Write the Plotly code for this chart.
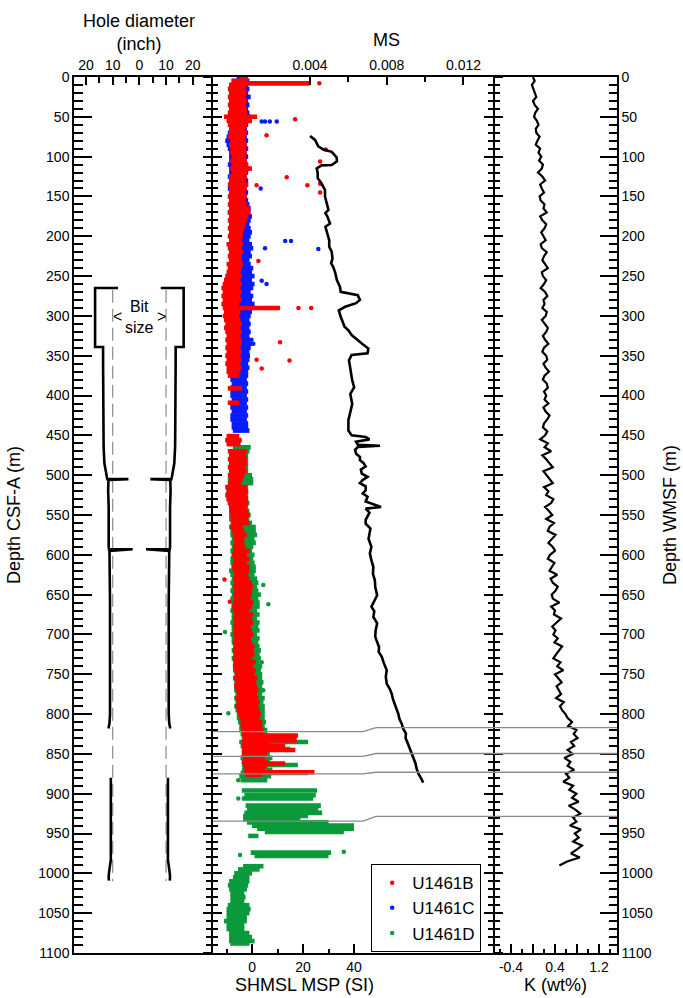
import plotly.graph_objects as go

# ---------------- data ----------------
# Caliper half-diameter (inch), plotted mirrored about the hole axis
cal_upper_depth = [265, 265, 339, 339, 360, 400, 443, 464, 485, 495, 502, 505, 505, 506, 520, 540, 560, 575, 590, 593, 593, 595, 610, 630, 660, 700, 740, 780, 800, 812, 818]
cal_upper_val = [8.0, 16.6, 16.6, 13.6, 13.6, 13.6, 13.5, 13.4, 13.1, 12.7, 12.2, 12.0, 4.1, 11.6, 11.7, 11.5, 11.6, 11.5, 11.5, 11.4, 2.5, 11.2, 11.1, 11.0, 11.0, 11.0, 10.9, 11.0, 11.0, 11.2, 11.6]
cal_lower_depth = [880, 900, 930, 960, 983, 990, 995, 1000, 1005, 1009]
cal_lower_val = [10.7, 10.7, 10.7, 10.7, 10.7, 11.0, 11.3, 11.4, 11.5, 11.4]
bit_size = 10.0
bit_depth = [267, 1010]

# SHMSL point-magnetic susceptibility, U1461B (depth m, low, high of the point cloud)
b_depth = [0, 5, 8, 10, 15, 20, 25, 30, 35, 40, 45, 50, 55, 60, 65, 70, 75, 80, 85, 90, 95, 100, 105, 110, 115, 120, 125, 130, 135, 140, 145, 150, 155, 160, 165, 170, 175, 180, 185, 190, 195, 200, 205, 210, 215, 220, 225, 230, 235, 240, 245, 250, 255, 260, 265, 270, 275, 280, 285, 290, 295, 300, 305, 310, 315, 320, 325, 330, 335, 340, 345, 350, 355, 360, 365, 370, 375, 391, 409, 451, 456, 461, 470, 475, 480, 485, 490, 495, 500, 505, 510, 515, 520, 525, 530, 535, 540, 545, 550, 555, 560, 565, 570, 575, 580, 585, 590, 595, 600, 605, 610, 615, 620, 625, 630, 635, 640, 645, 650, 655, 660, 665, 670, 675, 680, 685, 690, 695, 700, 705, 710, 715, 720, 725, 730, 735, 740, 745, 750, 755, 760, 765, 770, 775, 780, 785, 790, 795, 800, 805, 810, 815, 820, 825, 827, 830, 833, 835, 840, 845, 850, 855, 860, 862, 865, 870, 873, 876]
b_lo = [-5, -8, -5.5, -9, -9.5, -9, -9.5, -9, -9.5, -9, -9.5, -11, -10, -9.5, -9, -9, -9.5, -8.5, -9, -8.5, -8.5, -8, -8.5, -8, -8.5, -8, -9, -9, -9.5, -9, -9, -9.5, -9, -9.5, -9, -9.5, -9, -9.5, -9, -9.5, -9, -9.5, -9, -10, -9.5, -9, -9.5, -9, -10, -9.5, -10, -10.5, -11, -11.5, -12, -11.5, -12, -11.5, -12, -11.5, -11, -11.5, -11, -10.5, -11, -10.5, -10, -10.5, -10, -10.5, -10, -10.5, -10, -10.5, -10, -10, -9.5, -9.5, -9.5, -10, -10.5, -10, -9.5, -9, -9.5, -9, -9.5, -9, -9.5, -9, -9.5, -10.5, -10, -10.5, -10, -9.5, -9, -9, -8.5, -8.5, -8, -8.5, -8, -7.5, -7.5, -7, -7.5, -7.5, -8, -7.5, -7.5, -8, -7.5, -7, -7.5, -7, -7.5, -7, -7.5, -7, -7.5, -8, -7.5, -7, -7.5, -7, -7.5, -7, -7.5, -7, -7.5, -7, -7.5, -7, -7.5, -7, -7.5, -7, -6.5, -7, -6.5, -7, -6.5, -6, -6.5, -6, -6.5, -6, -5.5, -5, -4.5, -4.5, -4, -4, -4, -3.5, -3.5, -4, -4, -4, -4, -3.5, -4, -3, -3.5, -3, -3, -2.5]
b_hi = [-1.5, -1.5, 22.5, -2, -2.5, -2, -2.5, -2, -2.5, -2, -2, 2, 0, -2, -2.5, -2, -2.5, -2.5, -2, -2.5, -2, -2.5, -2, -1.5, 0, -2, -2, -2.5, -1.5, -2, -2.5, -2, -2.5, -2, -1, -0.5, -1.5, -2, -2.5, -3, -3.5, -3.5, -4, -3.5, -4, -3.5, -4, -4, -3.5, -4, -4.5, -4, -4.5, -4, -4.5, -4, -4.5, -4, -5, 11, -4.5, -5, -4.5, -4, -4.5, -4, -4.5, -4, -4, -4.5, -4, -4.5, -4, -4.5, -4, -4.5, -5, -4, -5, -5, -4, -4.5, -2, -2.5, -2, -2, -2.5, -2, -3, -3.5, -4, -2, -1.5, -2, -1.5, -1.5, -2, -1.5, -1, -1.5, -1, -3.5, -3, -2, -3, -3, -2.5, -1, -2, -1, -2, -1, -1, -1.5, -1, 0, 0.5, 0, 0, -0.5, 0.5, 0, -1, 0.5, 0, 0.5, -0.5, 0, 0.5, -0.5, 0, 1, 0.5, 1, 0, 1.5, 0.5, 1.5, 1, 2, 1.5, 2, 2.5, 2, 2.5, 3, 2.5, 3, 3.5, 3, 4, 4, 4.5, 5, 18, 6, 17.5, 7, 13, 17, 6, 5, 6, 13, 6, 5, 24.5, 4]
b_pts_depth = [8, 53, 73, 91, 106, 126, 134, 136, 136, 145, 231, 290, 290, 290, 290, 290, 290, 290, 333, 355, 356, 366, 631, 659]
b_pts_val = [26.4, 16.9, 5.7, 28.9, 26.7, 13.6, 26.7, 21.7, 1.8, 26.7, 2.5, -0.1, 1.2, 5.7, 7.0, 9.7, 18.2, 23.2, 11.0, 1.8, 14.7, 3.8, -10.8, -8.7]

# U1461C
c_depth = [0, 5, 10, 15, 20, 25, 30, 35, 40, 45, 50, 55, 60, 65, 70, 75, 80, 85, 90, 95, 100, 105, 110, 115, 120, 125, 130, 135, 140, 145, 150, 155, 160, 165, 170, 175, 180, 185, 190, 195, 200, 205, 210, 215, 220, 225, 230, 235, 240, 245, 250, 255, 260, 265, 270, 275, 280, 285, 290, 295, 300, 305, 310, 315, 320, 325, 330, 335, 340, 345, 350, 355, 360, 365, 370, 375, 380, 385, 390, 395, 400, 405, 410, 415, 420, 425, 430, 435, 440, 444]
c_lo = [-6, -8, -8.5, -9, -8.5, -9, -9, -8.5, -9, -8.5, -9, -9.5, -9, -9, -9.5, -10, -10.5, -10, -9.5, -9, -9, -9, -9.5, -9, -9, -9.5, -9, -9, -9.5, -9, -9, -9, -9, -9, -9.5, -9, -9, -9, -9, -9, -9, -9, -9, -9, -9, -9, -9, -9, -9, -9, -9, -9, -9, -9, -9, -9, -9, -9, -9, -9, -9, -9, -9, -9, -9, -8.5, -8.5, -8.5, -8.5, -8.5, -8.5, -8.5, -8.5, -8.5, -8.5, -8.5, -8.5, -8, -8.5, -8.5, -8.5, -8, -8.5, -8.5, -8, -8.5, -8.5, -8, -8, -7.5]
c_hi = [-2, -1, -1.5, -1, -1.5, -0.5, -1.5, -1, -1.5, -1, -0.5, 0, -1.5, -2, -1.5, -2, -1.5, -2, -1.5, -2, -1.5, -2, -1.5, -1, -1.5, -2, -1.5, -1.5, -2, -1.5, -2, -1.5, -1, -0.5, -1, 0, -0.5, -1, -0.5, 0, -0.5, -1, 0, 0.5, -0.5, 0, -1, -0.5, 0.5, 0, 1, 0, 1, 0.5, -0.5, 0.5, 0, 1, 0.5, 0, -0.5, -1, -0.5, -1, -0.5, -1, -0.8, 0, -0.5, -1, -0.8, -1, -1.5, -1, -1.5, -1.5, -2, -1.5, -2, -1.5, -2, -1.5, -2, -1.5, -2, -1.5, -2, -1.5, -1.5, -1]
c_pts_depth = [56, 56, 56, 56, 140, 206, 206, 215, 216, 256, 260, 330, 335]
c_pts_val = [3.8, 5.1, 7.0, 9.7, 3.4, 13.0, 15.3, 5.1, 26.0, 3.8, 5.7, -0.2, 0.5]

# U1461D
d_depth = [465, 470, 475, 480, 485, 490, 495, 500, 505, 510, 515, 520, 525, 530, 535, 540, 545, 550, 555, 560, 565, 570, 575, 580, 585, 590, 595, 600, 605, 610, 615, 620, 625, 630, 635, 640, 645, 650, 655, 660, 665, 670, 675, 680, 685, 690, 695, 700, 705, 710, 715, 720, 725, 730, 735, 740, 745, 750, 755, 760, 765, 770, 775, 780, 785, 790, 795, 800, 805, 810, 815, 820, 825, 830, 835, 840, 844, 850, 855, 860, 864, 870, 874, 878, 883, 896, 902, 906, 915, 919, 924, 928, 932, 936, 940, 944, 948, 953, 974, 978, 991, 995, 1000, 1005, 1010, 1015, 1020, 1025, 1030, 1035, 1040, 1045, 1050, 1055, 1060, 1065, 1070, 1075, 1080, 1085, 1088]
d_lo = [-7.5, -8, -9, -9, -9, -9, -9, -9, -9.5, -9, -10, -10, -10, -10, -9.5, -9, -9, -9, -9, -8.5, -9, -8.5, -8.5, -8, -8.5, -8, -8.5, -8, -8.5, -8.5, -8, -9, -8.5, -8, -8.5, -8, -8.5, -8, -8.5, -8, -8, -8.5, -8, -8, -8.5, -8, -8, -8.5, -8, -8, -7.5, -8, -7.5, -8, -7.5, -7, -7.5, -7, -7.5, -7, -7, -7, -6.5, -7, -6.5, -7, -6.5, -6, -6, -5.5, -5, -5, -4.5, -4, -5, -4.5, -4, -4, -4.5, -4, -4, -4, -4.5, -5, -4.5, -4, -3, -4, -2.5, -2, -3, -3.5, -3.5, -2, 0, 2, 5, -1.5, -0.5, 1, -3.5, -5.5, -7, -7.5, -9, -9.5, -9, -8.5, -8.5, -8.5, -9.5, -10, -10, -10, -11, -10, -10, -9, -9, -9, -8.5]
d_hi = [-0.5, -1, -1.5, -1.5, -1.5, -1.5, -1.5, 0, 0.5, 0.5, -1.5, -1.5, -1.5, -1.5, -1, -1.5, -1, -0.5, -1, 0, 1.5, 1.5, 2, 1, 1.5, 0.5, 0, 1, 0.5, 1, 1.5, 1.5, 1, 2, 2.5, 2, 2.5, 3.5, 2.5, 3, 3, 2, 3, 2, 3, 2.5, 3, 2, 3, 2.5, 3, 3.5, 3, 3.5, 3, 4, 3.5, 4, 4, 4.5, 4, 4.5, 4, 5, 4.5, 5, 5, 5, 5, 5.5, 5, 6, 6, 7, 22, 8, 15, 7, 8, 7, 18, 8, 22, 7.5, 6, 25.5, 25, 24, 27, 26, 27.5, 22, 19, 30, 40, 40, 36, 2.5, 31, 30, 4.5, 3, 0, -1, -1, -1.5, -2, -3, -2.5, -3, -1, -0.5, -1, -2, -2, -3, -3, -1, 0, 1, -1]
d_pts_depth = [638, 662, 697, 735, 770, 799, 883, 906, 944, 973, 977]
d_pts_val = [4.4, 6.4, -10.6, 3.8, 4.4, -9.3, -5.4, -5.4, 37.8, 36.0, -4.7]

# Downhole magnetic susceptibility (MS)
ms_depth = [74, 79, 87, 91, 94, 101, 106, 110.6, 111, 114.7, 121, 127, 133.6, 142, 150, 159, 167, 171, 175, 184, 188, 196.5, 205, 213, 219.5, 228, 234, 238, 244.6, 255, 263.4, 269.7, 272, 274, 280, 284, 288.5, 293, 301, 307, 313.6, 318, 324, 334.6, 341, 347, 349, 355.5, 368, 381, 389.6, 398, 410.6, 423, 431, 444, 450, 452, 455, 458, 462, 463, 464.5, 468, 473, 477, 481, 485, 489, 493, 498, 502, 506, 510, 514, 519, 523, 527, 533, 540, 542, 547, 552, 556, 561, 567, 573.5, 580, 590, 598, 607, 615, 624, 632, 640.5, 651, 658, 665, 671, 678, 686, 695, 703, 710, 716, 722, 728, 736, 745, 753, 762, 768, 774.5, 781, 787, 793, 799.5, 806, 812, 818, 824.5, 830, 837, 843, 850, 856, 862, 868, 875, 881, 886]
ms_val = [0.00400, 0.00426, 0.00443, 0.00469, 0.00513, 0.00539, 0.00540, 0.00513, 0.00460, 0.00435, 0.00440, 0.00440, 0.00460, 0.00478, 0.00478, 0.00487, 0.00496, 0.00480, 0.00490, 0.00504, 0.00480, 0.00490, 0.00500, 0.00500, 0.00513, 0.00517, 0.00510, 0.00520, 0.00530, 0.00540, 0.00556, 0.00560, 0.00617, 0.00649, 0.00660, 0.00640, 0.00583, 0.00550, 0.00560, 0.00570, 0.00580, 0.00600, 0.00617, 0.00670, 0.00704, 0.00700, 0.00617, 0.00603, 0.00610, 0.00620, 0.00630, 0.00610, 0.00620, 0.00610, 0.00600, 0.00600, 0.00617, 0.00690, 0.00710, 0.00640, 0.00650, 0.00765, 0.00650, 0.00635, 0.00640, 0.00660, 0.00660, 0.00680, 0.00690, 0.00665, 0.00670, 0.00700, 0.00675, 0.00660, 0.00690, 0.00690, 0.00675, 0.00700, 0.00690, 0.00770, 0.00690, 0.00710, 0.00700, 0.00690, 0.00690, 0.00715, 0.00710, 0.00705, 0.00720, 0.00712, 0.00720, 0.00730, 0.00728, 0.00738, 0.00740, 0.00750, 0.00735, 0.00720, 0.00735, 0.00730, 0.00750, 0.00742, 0.00740, 0.00752, 0.00760, 0.00758, 0.00774, 0.00785, 0.00800, 0.00795, 0.00800, 0.00815, 0.00826, 0.00832, 0.00843, 0.00850, 0.00860, 0.00866, 0.00878, 0.00885, 0.00900, 0.00898, 0.00910, 0.00920, 0.00930, 0.00938, 0.00950, 0.00955, 0.00965, 0.00980, 0.00990]

# Potassium from the natural gamma log, 5 m samples from 0 m
k_start, k_step = 0, 5
k_val = [0.00, 0.03, -0.02, 0.01, 0.04, 0.06, 0.00, 0.03, 0.09, 0.04, 0.02,
         0.07, 0.10, 0.05, 0.06, 0.12, 0.08, 0.05, 0.13, 0.10, 0.15,
         0.11, 0.18, 0.16, 0.09, 0.17, 0.22, 0.13, 0.16, 0.20, 0.12,
         0.14, 0.21, 0.19, 0.25, 0.13, 0.17, 0.24, 0.21, 0.15, 0.19,
         0.23, 0.14, 0.16, 0.25, 0.20, 0.17, 0.22, 0.27, 0.16, 0.18,
         0.24, 0.20, 0.14, 0.22, 0.26, 0.19, 0.21, 0.17, 0.25, 0.23,
         0.16, 0.21, 0.27, 0.24, 0.18, 0.22, 0.28, 0.20, 0.17, 0.24,
         0.26, 0.19, 0.23, 0.29, 0.21, 0.18, 0.25, 0.27, 0.20, 0.24,
         0.21, 0.28, 0.19, 0.23, 0.30, 0.26, 0.20, 0.18, 0.26, 0.22,
         0.13, 0.27, 0.21, 0.33, 0.17, 0.24, 0.30, 0.36, 0.19, 0.25,
         0.31, 0.36, 0.20, 0.28, 0.24, 0.37, 0.33, 0.22, 0.29, 0.35,
         0.24, 0.38, 0.30, 0.27, 0.41, 0.34, 0.28, 0.36, 0.40, 0.31,
         0.27, 0.39, 0.35, 0.30, 0.44, 0.32, 0.36, 0.45, 0.41, 0.34,
         0.36, 0.48, 0.33, 0.40, 0.38, 0.51, 0.43, 0.35, 0.41, 0.37,
         0.45, 0.39, 0.53, 0.47, 0.42, 0.37, 0.50, 0.44, 0.55, 0.40,
         0.46, 0.52, 0.43, 0.47, 0.51, 0.42, 0.56, 0.49, 0.53, 0.59,
         0.63, 0.71, 0.64, 0.79, 0.74, 0.81, 0.69, 0.75, 0.63, 0.72,
         0.57, 0.68, 0.63, 0.75, 0.60, 0.66, 0.55, 0.73, 0.66, 0.79,
         0.71, 0.83, 0.65, 0.77, 0.86, 0.73, 0.79, 0.67, 0.87, 0.76,
         0.83, 0.73, 0.89, 0.80, 0.69, 0.85, 0.62, 0.48]
k_depth = list(range(k_start, k_start + k_step * len(k_val), k_step))

# Depth ties between CSF-A (core) and WMSF (logging) scales
tie_csf = [822, 853, 875, 934.5]
tie_wmsf = [817, 849.5, 873, 928.5]

# ---------------- styling ----------------
FONT = "Liberation Sans, Arial, Helvetica, sans-serif"
RED, BLUE, GREEN = "#ff0000", "#0a1aff", "#0a9a3c"
W, H = 683, 998
ML, MR, MT, MB = 74, 66, 77, 45
PW, PH = W - ML - MR, H - MT - MB
D1 = (213 - ML) / PW
D2 = (493 - ML) / PW


def px(x):
    return (x - ML) / PW


def py(y):
    return 1 - (y - MT) / PH


def band(depths, lo, hi):
    xs, ys = [], []
    for d, a, b in zip(depths, lo, hi):
        xs += [a, b, None]
        ys += [d, d, None]
    return xs, ys


fig = go.Figure()

# --- caliper panel ---
for sgn in (-1, 1):
    fig.add_trace(go.Scatter(x=[sgn * bit_size] * 2, y=bit_depth, mode="lines",
                             line=dict(color="#8c8c8c", width=1.2, dash="13px,6px"),
                             xaxis="x", yaxis="y", showlegend=False, hoverinfo="skip"))
    for dep, val in ((cal_upper_depth, cal_upper_val), (cal_lower_depth, cal_lower_val)):
        fig.add_trace(go.Scatter(x=[sgn * v for v in val], y=dep, mode="lines",
                                 line=dict(color="black", width=2.6),
                                 xaxis="x", yaxis="y", showlegend=False, hoverinfo="skip"))

# --- MSP point clouds (drawn D, C, B so B sits on top) ---
holes = [
    ("U1461D", GREEN, d_depth, d_lo, d_hi, d_pts_depth, d_pts_val, 3),
    ("U1461C", BLUE, c_depth, c_lo, c_hi, c_pts_depth, c_pts_val, 2),
    ("U1461B", RED, b_depth, b_lo, b_hi, b_pts_depth, b_pts_val, 1),
]
for name, col, dep, lo, hi, pd_, pv, rank in holes:
    bx, by = band(dep, lo, hi)
    fig.add_trace(go.Scatter(x=bx, y=by, mode="lines", line=dict(color=col, width=4.6),
                             xaxis="x2", yaxis="y2", legendgroup=name, showlegend=False,
                             hoverinfo="skip"))
    fig.add_trace(go.Scatter(x=pv, y=pd_, mode="markers", name=name,
                             marker=dict(color=col, size=4.5), legendgroup=name,
                             legendrank=rank, xaxis="x2", yaxis="y2"))

# --- downhole MS ---
fig.add_trace(go.Scatter(x=ms_val, y=ms_depth, mode="lines", line=dict(color="black", width=2.6),
                         xaxis="x3", yaxis="y2", showlegend=False))

# --- K log ---
fig.add_trace(go.Scatter(x=k_val, y=k_depth, mode="lines", line=dict(color="black", width=2.2),
                         xaxis="x4", yaxis="y3", showlegend=False))

# --- depth tie lines ---
bend0, bend1 = px(363), px(376)
shapes = []
for a, b in zip(tie_csf, tie_wmsf):
    for x0, x1, y0, y1 in ((D1, bend0, a, a), (bend0, bend1, a, b), (bend1, 1.0, b, b)):
        shapes.append(dict(type="line", xref="paper", yref="y2", x0=x0, x1=x1, y0=y0, y1=y1,
                           line=dict(color="#8a8a8a", width=1.3), layer="above"))

depth_range = [1100, 0]
tickfont = dict(family=FONT, size=14, color="black")
common = dict(showgrid=False, zeroline=False, showline=True, linecolor="black", linewidth=1.5,
              tickcolor="black", tickwidth=1.5, tickfont=tickfont)

fig.update_layout(
    width=W, height=H, margin=dict(l=ML, r=MR, t=MT, b=MB),
    paper_bgcolor="white", plot_bgcolor="white",
    font=dict(family=FONT, color="black"),
    shapes=shapes,
    showlegend=True,
    legend=dict(x=px(371), y=py(864), xanchor="left", yanchor="top", bgcolor="white",
                bordercolor="black", borderwidth=1.2, font=dict(family=FONT, size=17),
                itemwidth=30, tracegroupgap=0),
    xaxis=dict(domain=[0, D1], range=[-24.5, 27.6], side="top", anchor="y",
               tickmode="array", tickvals=[-20, -10, 0, 10, 20],
               ticktext=["20", "10", "0", "10", "20"], ticks="inside", ticklen=8,
               minor=dict(tickvals=[-15, -5, 5, 15], ticks="inside", ticklen=6,
                          tickcolor="black", tickwidth=1.5),
               mirror=True, **common),
    yaxis=dict(domain=[0, 1], range=depth_range, anchor="x", side="left",
               tickmode="linear", tick0=0, dtick=50, ticks="inside", ticklen=18,
               minor=dict(dtick=10, tick0=0, ticks="inside", ticklen=9,
                          tickcolor="black", tickwidth=1.5),
               **common),
    xaxis2=dict(domain=[D1, D2], range=[-15.3, 94.5], side="bottom", anchor="y2",
                tickmode="array", tickvals=[0, 20, 40], ticks="inside", ticklen=9,
                minor=dict(tickvals=[-10, 10, 30], ticks="inside", ticklen=4,
                           tickcolor="black", tickwidth=1.5),
                **common),
    xaxis3=dict(range=[-0.00106, 0.01354], overlaying="x2", side="top", anchor="y2",
                tickmode="array", tickvals=[0.004, 0.008, 0.012],
                ticktext=["0.004", "0.008", "0.012"], ticks="inside", ticklen=8,
                minor=dict(tickvals=[0.006, 0.010], ticks="inside", ticklen=5,
                           tickcolor="black", tickwidth=1.5),
                **common),
    yaxis2=dict(domain=[0, 1], range=depth_range, anchor="x2", side="left",
                tickmode="linear", tick0=0, dtick=50, ticks="outside", ticklen=8,
                minor=dict(dtick=10, tick0=0, ticks="outside", ticklen=5,
                           tickcolor="black", tickwidth=1.5),
                showticklabels=False, mirror="ticks", **common),
    yaxis4=dict(range=depth_range, anchor="x2", overlaying="y2", side="left",
                tickmode="linear", tick0=0, dtick=50, ticks="inside", ticklen=9,
                minor=dict(dtick=10, tick0=0, ticks="inside", ticklen=5,
                           tickcolor="black", tickwidth=1.5),
                showticklabels=False, mirror="ticks", **common),
    xaxis4=dict(domain=[D2, 1], range=[-0.727, 1.527], side="bottom", anchor="y3",
                tickmode="array", tickvals=[-0.4, 0, 0.4, 0.8, 1.2],
                ticktext=["-0.4", "", "0.4", "", "1.2"], ticks="inside", ticklen=9,
                minor=dict(tickvals=[-0.6, -0.2, 0.2, 0.6, 1.0, 1.4], ticks="inside", ticklen=4,
                           tickcolor="black", tickwidth=1.5),
                mirror=True, **common),
    yaxis3=dict(domain=[0, 1], range=depth_range, anchor="x4", side="right",
                tickmode="linear", tick0=0, dtick=50, ticks="inside", ticklen=17,
                minor=dict(dtick=10, tick0=0, ticks="inside", ticklen=8,
                           tickcolor="black", tickwidth=1.5),
                **common),
)

# empty trace so the overlay depth axis is rendered
fig.add_trace(go.Scatter(x=[None], y=[None], xaxis="x2", yaxis="y4", showlegend=False))

title_font = dict(family=FONT, size=18, color="black")
ann = [
    dict(text="Hole diameter<br>(inch)", x=px(139), y=py(56), yanchor="bottom"),
    dict(text="MS", x=px(386), y=py(40), yanchor="middle"),
    dict(text="SHMSL MSP (SI)", x=px(304), y=py(985), yanchor="middle"),
    dict(text="K (wt%)", x=px(555), y=py(985), yanchor="middle"),
    dict(text="Depth CSF-A (m)", x=px(14), y=py(515), yanchor="middle", textangle=-90),
    dict(text="Depth WMSF (m)", x=px(670), y=py(515), yanchor="middle", textangle=-90),
]
for a in ann:
    fig.add_annotation(xref="paper", yref="paper", showarrow=False, xanchor="center",
                       font=title_font, **a)

# bit-size label inside the hole panel
label_font = dict(family=FONT, size=16, color="black")
fig.add_annotation(xref="x", yref="y", x=0, y=301, text="Bit<br>size", showarrow=False,
                   font=label_font)
fig.add_annotation(xref="x", yref="y", x=-8.2, y=301, text="<", showarrow=False, font=label_font)
fig.add_annotation(xref="x", yref="y", x=8.2, y=301, text=">", showarrow=False, font=label_font)

fig.write_html("out.html")
